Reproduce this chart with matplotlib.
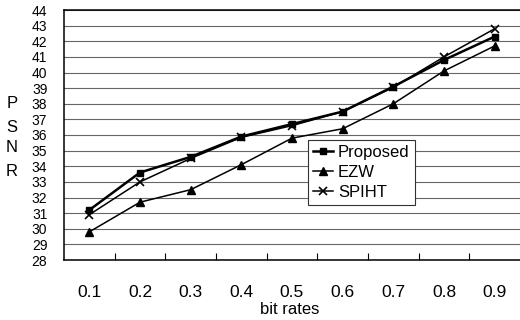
import matplotlib.pyplot as plt
from matplotlib.ticker import FixedLocator

plt.rcParams['font.family'] = ['Liberation Sans', 'DejaVu Sans']

# data
bit_rates = ['0.1', '0.2', '0.3', '0.4', '0.5', '0.6', '0.7', '0.8', '0.9']
proposed = [31.2, 33.6, 34.6, 35.9, 36.7, 37.5, 39.1, 40.8, 42.3]
ezw = [29.8, 31.7, 32.5, 34.1, 35.8, 36.4, 38.0, 40.1, 41.7]
spiht = [30.9, 33.0, 34.5, 35.85, 36.6, 37.5, 39.05, 41.0, 42.8]
yticks = list(range(28, 45))

fig = plt.figure(figsize=(5.2, 3.2), dpi=100)
ax = fig.add_axes([64 / 520, 60 / 320, 456 / 520, 250 / 320])

x = list(range(len(bit_rates)))
ax.plot(x, proposed, color='black', lw=1.8, marker='s', ms=4, label='Proposed')
ax.plot(x, ezw, color='black', lw=1.1, marker='^', ms=6, label='EZW')
ax.plot(x, spiht, color='black', lw=1.1, marker='x', ms=6, mew=1.2, label='SPIHT')

ax.set_xlim(-0.5, 8.5)
ax.set_ylim(28, 44)
ax.set_yticks(yticks)
ax.set_yticklabels([str(v) for v in yticks], fontsize=10)
ax.set_xticks(x)
ax.set_xticklabels(bit_rates, fontsize=12.5)
ax.xaxis.set_minor_locator(FixedLocator([i + 0.5 for i in range(8)]))
ax.tick_params(axis='x', which='major', length=0, pad=18)
ax.tick_params(axis='x', which='minor', direction='in', length=5, width=0.8)
ax.tick_params(axis='y', length=0, pad=12)

ax.grid(axis='y', color='#666666', lw=0.8)
ax.set_axisbelow(True)
for s in ['left', 'top', 'bottom']:
    ax.spines[s].set_linewidth(1.1)
ax.spines['right'].set_visible(False)

fig.text(290 / 520, 1 - 309 / 320, 'bit rates', fontsize=12, ha='center', va='center')
for ch, yp in zip('PSNR', [103, 127, 148, 172]):
    fig.text(12 / 520, 1 - yp / 320, ch, fontsize=12, ha='center', va='center')

leg = ax.legend(loc='upper left', bbox_to_anchor=((308 - 64) / 456, (260 - 140) / 250),
                fontsize=12, handlelength=1.2, handletextpad=0.3, borderpad=0.3,
                labelspacing=0.3, fancybox=False, framealpha=1, edgecolor='#333333',
                borderaxespad=0)
leg.get_frame().set_linewidth(0.8)

fig.savefig('out.png', dpi=100)
